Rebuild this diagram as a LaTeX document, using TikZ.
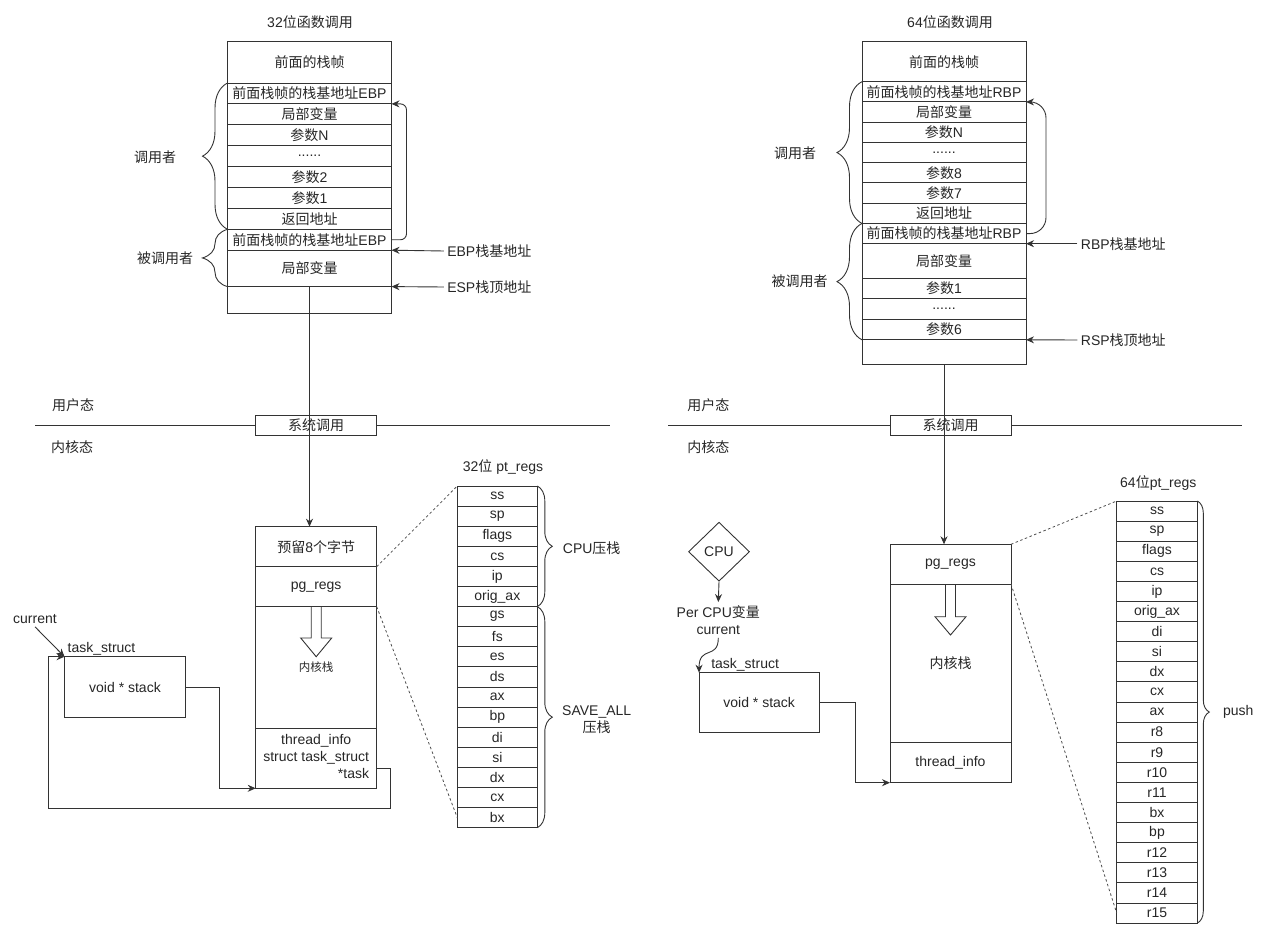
\documentclass[tikz,border=0pt]{standalone}
\usepackage{fontspec}
\usepackage{tikz}
\usetikzlibrary{positioning,shapes.geometric,arrows.meta,decorations.pathreplacing}
\setmainfont{Liberation Sans}
\newfontfamily\cjk{Noto Sans CJK SC}
\newcommand{\zh}[1]{{\cjk #1}}

\begin{document}
\begin{tikzpicture}[x=1pt, y=-1pt,
			font=\fontsize{14}{16.8}\selectfont, text=black!85,
			wire/.style={draw=black!80, line width=0.9pt},
			arrow/.style={wire, -{Stealth[length=8pt, width=7pt]}},
			frame/.style={wire, rectangle, inner sep=0pt, outer sep=0pt, minimum width=164pt},
			cell/.style={frame, minimum height=20.9pt},
			kcell/.style={frame, minimum width=121pt},
			reg/.style={frame, minimum width=80pt, minimum height=20.1pt},
			bracket/.style={wire, decorate, decoration={brace, amplitude=#1}},
			zoomline/.style={draw=black!70, line width=0.8pt, dash pattern=on 2.5pt off 2.5pt}
		]
		\useasboundingbox (0,0) rectangle (1269,941);

		% 32位 函数调用栈
		\node (title32) at (310,22) {32\zh{位函数调用}};
		\node[cell, minimum height=41.3pt, anchor=north] (prev32) at (309.5,41.7) {\zh{前面的栈帧}};
		\node[cell, below=0pt of prev32] (ebpA) {\zh{前面栈帧的栈基地址}EBP};
		\node[cell, below=0pt of ebpA] (loc32a) {\zh{局部变量}};
		\node[cell, below=0pt of loc32a] (argN32) {\zh{参数}N};
		\node[cell, below=0pt of argN32] (dots32) {......};
		\node[cell, below=0pt of dots32] (arg2) {\zh{参数}2};
		\node[cell, below=0pt of arg2] (arg1) {\zh{参数}1};
		\node[cell, below=0pt of arg1] (ret32) {\zh{返回地址}};
		\node[cell, below=0pt of ret32] (ebpB) {\zh{前面栈帧的栈基地址}EBP};
		\node[cell, minimum height=36.4pt, below=0pt of ebpB] (loc32b) {\zh{局部变量}};
		\node[cell, minimum height=26.6pt, below=0pt of loc32b] (empty32) {};

		\draw[bracket=25pt] (ret32.south west) -- (ebpA.north west);
		\draw[bracket=25pt] (loc32b.south west) -- (ebpB.north west);
		\node (caller32) at (155,157) {\zh{调用者}};
		\node (callee32) at (165,258) {\zh{被调用者}};

		\draw[arrow, rounded corners=6pt] (ebpB.east) -- ++(15,0) |- (ebpA.south east);
		\node (ebp) at (489.3,251) {EBP\zh{栈基地址}};
		\node (esp) at (489.3,287) {ESP\zh{栈顶地址}};
		\draw[arrow] (ebp.west) -- (loc32b.north east);
		\draw[arrow] (esp.west) -- (loc32b.south east);

		% 64位 函数调用栈
		\node (title64) at (950,22) {64\zh{位函数调用}};
		\node[cell, minimum height=40pt, anchor=north] (prev64) at (944,41.7) {\zh{前面的栈帧}};
		\node[cell, minimum height=20.25pt, below=0pt of prev64] (rbpA) {\zh{前面栈帧的栈基地址}RBP};
		\node[cell, minimum height=20.25pt, below=0pt of rbpA] (loc64a) {\zh{局部变量}};
		\node[cell, minimum height=20.25pt, below=0pt of loc64a] (argN64) {\zh{参数}N};
		\node[cell, minimum height=20.25pt, below=0pt of argN64] (dots64a) {......};
		\node[cell, minimum height=20.25pt, below=0pt of dots64a] (arg8) {\zh{参数}8};
		\node[cell, minimum height=20.25pt, below=0pt of arg8] (arg7) {\zh{参数}7};
		\node[cell, minimum height=20.25pt, below=0pt of arg7] (ret64) {\zh{返回地址}};
		\node[cell, minimum height=20.25pt, below=0pt of ret64] (rbpB) {\zh{前面栈帧的栈基地址}RBP};
		\node[cell, minimum height=34.6pt, below=0pt of rbpB] (loc64b) {\zh{局部变量}};
		\node[cell, minimum height=20.5pt, below=0pt of loc64b] (arg1) {\zh{参数}1};
		\node[cell, minimum height=20.5pt, below=0pt of arg1] (dots64b) {......};
		\node[cell, minimum height=20.5pt, below=0pt of dots64b] (arg6) {\zh{参数}6};
		\node[cell, minimum height=24.6pt, below=0pt of arg6] (empty64) {};

		\draw[bracket=25pt] (ret64.south west) -- (rbpA.north west);
		\draw[bracket=25pt] (arg6.south west) -- (rbpB.north west);
		\node (caller64) at (795,153.3) {\zh{调用者}};
		\node (callee64) at (799.5,281) {\zh{被调用者}};

		\draw[arrow, rounded corners=16pt] (rbpB.east) -- ++(20,0) |- (rbpA.south east);
		\node (rbp) at (1123.3,243.7) {RBP\zh{栈基地址}};
		\node (rsp) at (1123.3,340) {RSP\zh{栈顶地址}};
		\draw[arrow] (rbp.west) -- (loc64b.north east);
		\draw[arrow] (rsp.west) -- (arg6.south east);

		% 用户态 / 内核态
		\node (user32) at (73,405) {\zh{用户态}};
		\node (kern32) at (72,447) {\zh{内核态}};
		\node (user64) at (708.3,405) {\zh{用户态}};
		\node (kern64) at (708.3,447.3) {\zh{内核态}};
		\coordinate (divL32) at (35,425);
		\coordinate (divR32) at (610,425);
		\coordinate (divL64) at (668.3,425);
		\coordinate (divR64) at (1242,425);
		\draw[wire] (divL32) -- (divR32);
		\draw[wire] (divL64) -- (divR64);
		\node[kcell, minimum height=20pt, fill=white] (sys32) at (316.2,425) {\zh{系统调用}};
		\node[kcell, minimum height=20pt, fill=white] (sys64) at (950.5,425) {\zh{系统调用}};

		% 32位 内核栈
		\node[kcell, minimum height=40pt, anchor=north] (res32) at (316.2,526.7) {\zh{预留}8\zh{个字节}};
		\node[kcell, minimum height=40pt, below=0pt of res32] (pgr32) {pg\_regs};
		\node[kcell, minimum height=121.6pt, below=0pt of pgr32, font=\fontsize{11.5}{14}\selectfont] (stk32) {\zh{内核栈}};
		\node[kcell, minimum height=60pt, below=0pt of stk32] (thr32) {\raisebox{-3.5pt}{\begin{tabular}{@{}c@{}}thread\_info\\struct task\_struct\\\multicolumn{1}{@{}r@{}}{*task}\end{tabular}}};
		\draw[wire] ([xshift=-5pt]stk32.north) -- ++(0,31.3) -- ++(-10.5,0) -- ++(15.5,18.7) -- ++(15.5,-18.7) -- ++(-10.5,0) -- ++(0,-31.3);
		\draw[arrow] (loc32b.south) -- (loc32b.south |- res32.north);

		\node (pt32) at (503,467.3) {32\zh{位} pt\_regs};
		\foreach \r [count=\i from 0] in {ss,sp,flags,cs,ip,orig\_ax,gs,fs,es,ds,ax,bp,di,si,dx,cx,bx}
			\node[reg, anchor=north] (r32-\i) at (497.3,486+20.1*\i) {\r};
		\draw[bracket=15pt] (r32-0.north east) -- (r32-5.south east);
		\draw[bracket=15pt] (r32-6.north east) -- (r32-16.south east);
		\node (cpupush) at (591.7,548.3) {CPU\zh{压栈}};
		\node[align=center] (savepush) at (596.7,720) {SAVE\_ALL\\\zh{压栈}};
		\draw[zoomline] (pgr32.north east) -- (r32-0.north west);
		\draw[zoomline] (pgr32.south east) -- (r32-16.west);

		\node[kcell, minimum height=61pt] (task32) at (125,687.2) {void * stack};
		\node[anchor=south west, inner sep=1pt] (ts32) at ([xshift=2pt]task32.north west) {task\_struct};
		\node (cur32) at (35,618.7) {current};
		\draw[arrow] (cur32.south) -- (task32.north west);
		\draw[arrow] (task32.east) -- ++(34.3,0) |- (thr32.south west);
		\draw[arrow] ([yshift=-10pt]thr32.east) -- ++(14,0) -- ++(0,40) -| ([xshift=-16pt]task32.north west) -- (task32.north west);

		% 64位 内核栈
		\node[kcell, minimum height=39.7pt, anchor=north] (pgr64) at (950.5,544.3) {pg\_regs};
		\node[kcell, minimum height=158.3pt, below=0pt of pgr64] (stk64) {\zh{内核栈}};
		\node[kcell, minimum height=40.4pt, below=0pt of stk64] (thr64) {thread\_info};
		\draw[wire] ([xshift=-5pt]stk64.north) -- ++(0,32.7) -- ++(-10.5,0) -- ++(15.5,18.3) -- ++(15.5,-18.3) -- ++(-10.5,0) -- ++(0,-32.7);
		\draw[arrow] (empty64.south) -- (empty64.south |- pgr64.north);

		\node (pt64) at (1158.3,483.3) {64\zh{位}pt\_regs};
		\foreach \r [count=\i from 0] in {ss,sp,flags,cs,ip,orig\_ax,di,si,dx,cx,ax,r8,r9,r10,r11,bx,bp,r12,r13,r14,r15}
			\node[reg, minimum width=80.6pt, anchor=north] (r64-\i) at (1157,501+20.1*\i) {\r};
		\draw[bracket=12pt] (r64-0.north east) -- (r64-20.south east);
		\node (push) at (1238.3,711.7) {push};
		\draw[zoomline] (pgr64.north east) -- (r64-0.north west);
		\draw[zoomline] (pgr64.south east) -- (r64-20.west);

		\node[wire, diamond, minimum width=61pt, minimum height=59pt, inner sep=0pt] (cpu) at (719,551.7) {CPU};
		\node[align=center] (percpu) at (718.3,620) {Per CPU\zh{变量}\\current};
		\draw[arrow] (cpu.south) -- (percpu.north);
		\node[kcell, minimum width=120.3pt, minimum height=59.6pt] (task64) at (759.2,702.5) {void * stack};
		\node[anchor=south west, inner sep=1pt] (ts64) at ([xshift=11pt]task64.north west) {task\_struct};
		\draw[arrow] (percpu.south) .. controls (718.3,660) and (699,645) .. (task64.north west);
		\draw[arrow] (task64.east) -- ++(35.7,0) |- (thr64.south west);

	\end{tikzpicture}
\end{document}
